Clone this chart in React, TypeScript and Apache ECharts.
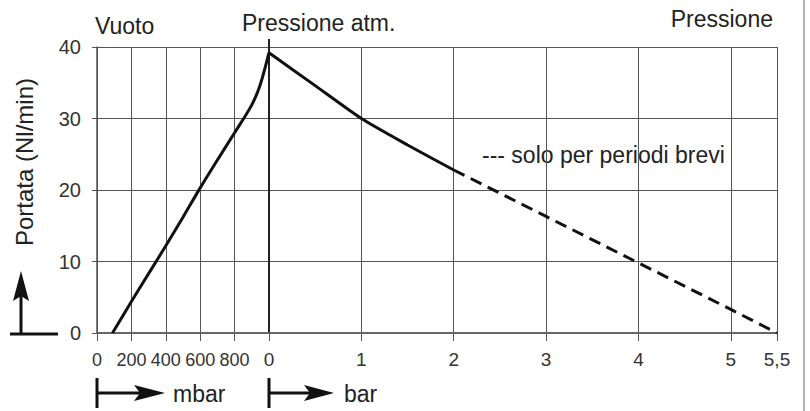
import React, { useEffect, useRef } from "react";
import * as echarts from "echarts";

// Vacuum side: x in mbar, y in Nl/min
const vacuumMbar = [90, 200, 300, 400, 500, 600, 700, 800, 900, 950, 1000];
const vacuumFlow = [0, 4.4, 8.3, 12.2, 16.2, 20.3, 24.2, 28.0, 31.9, 34.8, 39.2];
// Pressure side: x in bar
const pressureBar = [0, 0.5, 1, 1.5, 2];
const pressureFlow = [39.2, 34.6, 30, 26.3, 22.8];
const shortBar = [2, 3, 4, 5, 5.5];
const shortFlow = [22.8, 16.3, 9.8, 3.3, 0];

const yTicks = [0, 10, 20, 30, 40];
const mbarTicks = [0, 200, 400, 600, 800, 1000];
const barTicks = [0, 1, 2, 3, 4, 5, 5.5];

const FONT = "'Liberation Sans', Arial, Helvetica, sans-serif";
const GRID = "#555";

export default function App() {
  const ref = useRef<HTMLDivElement>(null);
  useEffect(() => {
    if (!ref.current) return;
    const chart = echarts.init(ref.current, undefined, { renderer: "svg" });
    const zip = (a: number[], b: number[]) => a.map((v, i) => [v, b[i]]);
    const tickLabel = { fontFamily: FONT, fontSize: 19, color: "#333" };
    const headStyle = { fontFamily: FONT, fontSize: 23, fill: "#222" };
    chart.setOption({
      animation: false,
      backgroundColor: "#fff",
      grid: [
        { left: 97, right: 541, top: 47, bottom: 78 },
        { left: 269, right: 33, top: 47, bottom: 78 },
      ],
      xAxis: [
        {
          type: "value", gridIndex: 0, min: mbarTicks[0], max: mbarTicks[mbarTicks.length - 1], interval: 200,
          axisLine: { show: true, lineStyle: { color: "#666", width: 2 } },
          axisTick: { show: true, length: 8, lineStyle: { color: GRID } },
          splitLine: { show: true, lineStyle: { color: GRID, width: 1 } },
          axisLabel: { ...tickLabel, fontSize: 18, margin: 18, formatter: (v: number) => (v === 1000 ? "" : String(v)) },
        },
        {
          type: "value", gridIndex: 1, min: barTicks[0], max: barTicks[barTicks.length - 1], interval: 1,
          axisLine: { show: true, lineStyle: { color: "#666", width: 2 } },
          axisTick: { show: true, length: 8, lineStyle: { color: GRID } },
          splitLine: { show: true, lineStyle: { color: GRID, width: 1 } },
          axisLabel: { ...tickLabel, margin: 17, showMaxLabel: true, formatter: (v: number) => String(v).replace(".", ",") },
        },
      ],
      yAxis: [
        {
          type: "value", gridIndex: 0, min: yTicks[0], max: yTicks[yTicks.length - 1], interval: 10,
          axisLine: { show: true, lineStyle: { color: GRID, width: 1.5 } },
          axisTick: { show: true, length: 5, lineStyle: { color: GRID } },
          splitLine: { show: true, lineStyle: { color: GRID, width: 1 } },
          axisLabel: { ...tickLabel, fontSize: 20, margin: 16 },
        },
        {
          type: "value", gridIndex: 1, min: yTicks[0], max: yTicks[yTicks.length - 1], interval: 10,
          axisLine: { show: true, lineStyle: { color: "#222", width: 2 } },
          axisTick: { show: false },
          splitLine: { show: true, lineStyle: { color: GRID, width: 1 } },
          axisLabel: { show: false },
        },
      ],
      series: [
        {
          type: "line", xAxisIndex: 0, yAxisIndex: 0, data: zip(vacuumMbar, vacuumFlow),
          symbol: "none", smooth: 0.3, lineStyle: { color: "#111", width: 3 }, clip: false,
        },
        {
          type: "line", xAxisIndex: 1, yAxisIndex: 1, data: zip(pressureBar, pressureFlow),
          symbol: "none", smooth: 0.2, lineStyle: { color: "#111", width: 3 }, clip: false,
        },
        {
          type: "line", xAxisIndex: 1, yAxisIndex: 1, data: zip(shortBar, shortFlow),
          symbol: "none", lineStyle: { color: "#111", width: 3, type: [12, 7] }, clip: false,
        },
      ],
      graphic: [
        { type: "line", shape: { x1: 269, y1: 39, x2: 269, y2: 47 }, style: { stroke: "#222", lineWidth: 2 } },
        { type: "line", shape: { x1: 804, y1: 0, x2: 804, y2: 411 }, style: { stroke: "#999", lineWidth: 1.5 } },
        { type: "text", x: 95, y: 26, style: { ...headStyle, text: "Vuoto", align: "left", verticalAlign: "middle" } },
        { type: "text", x: 242, y: 23, style: { ...headStyle, text: "Pressione atm.", align: "left", verticalAlign: "middle" } },
        { type: "text", x: 773, y: 19, style: { ...headStyle, text: "Pressione", align: "right", verticalAlign: "middle" } },
        { type: "text", x: 482, y: 155, style: { ...headStyle, fontSize: 23, text: "--- solo per periodi brevi", align: "left", verticalAlign: "middle" } },
        { type: "text", x: 24, y: 162, rotation: Math.PI / 2, style: { ...headStyle, fontSize: 24, text: "Portata (Nl/min)", align: "center", verticalAlign: "middle" } },
        // up arrow symbol
        { type: "line", shape: { x1: 21, y1: 296, x2: 21, y2: 334 }, style: { stroke: "#111", lineWidth: 3 } },
        { type: "line", shape: { x1: 10, y1: 334, x2: 58, y2: 334 }, style: { stroke: "#111", lineWidth: 3 } },
        { type: "polygon", shape: { points: [[21, 271], [13, 301], [21, 296], [29, 301]] }, style: { fill: "#111" } },
        // mbar arrow
        { type: "line", shape: { x1: 97, y1: 378, x2: 97, y2: 408 }, style: { stroke: "#111", lineWidth: 3 } },
        { type: "line", shape: { x1: 97, y1: 393, x2: 140, y2: 393 }, style: { stroke: "#111", lineWidth: 3 } },
        { type: "polygon", shape: { points: [[165, 393], [134, 385], [140, 393], [134, 401]] }, style: { fill: "#111" } },
        { type: "text", x: 173, y: 394, style: { ...headStyle, text: "mbar", align: "left", verticalAlign: "middle" } },
        // bar arrow
        { type: "line", shape: { x1: 269, y1: 378, x2: 269, y2: 408 }, style: { stroke: "#111", lineWidth: 3 } },
        { type: "line", shape: { x1: 269, y1: 393, x2: 310, y2: 393 }, style: { stroke: "#111", lineWidth: 3 } },
        { type: "polygon", shape: { points: [[334, 393], [304, 385], [310, 393], [304, 401]] }, style: { fill: "#111" } },
        { type: "text", x: 344, y: 394, style: { ...headStyle, text: "bar", align: "left", verticalAlign: "middle" } },
      ],
    });
    return () => chart.dispose();
  }, []);
  return <div ref={ref} style={{ position: "fixed", left: 0, top: 0, width: 810, height: 411 }} />;
}
